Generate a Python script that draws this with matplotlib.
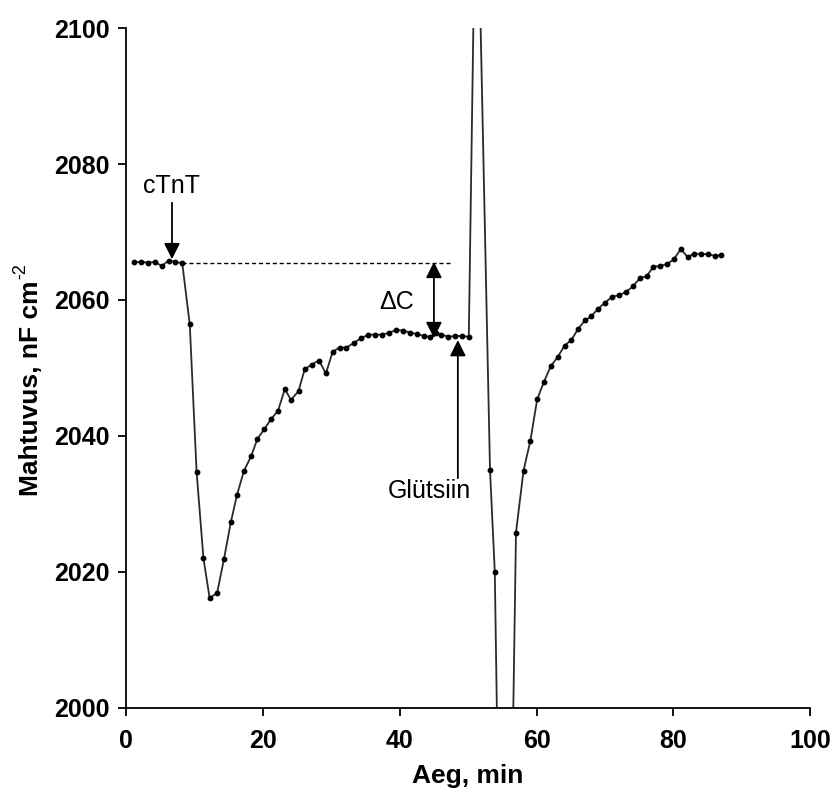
import matplotlib
matplotlib.use("Agg")
import matplotlib.pyplot as plt

# --------------------------------------------------
# data
# --------------------------------------------------
time_min = [
    1.2, 2.2, 3.2, 4.2, 5.2, 6.2, 7.2, 8.2, 9.3, 10.3,
    11.3, 12.2, 13.3, 14.3, 15.3, 16.2, 17.2, 18.3, 19.2, 20.2,
    21.2, 22.2, 23.2, 24.1, 25.2, 26.1, 27.1, 28.2, 29.2, 30.2,
    31.2, 32.2, 33.3, 34.4, 35.4, 36.4, 37.4, 38.5, 39.5, 40.5,
    41.5, 42.5, 43.5, 44.4, 45.3, 46.1, 47.1, 48.1, 49.1, 50.1,
    51.2, 53.2, 53.9, 55.4,
    57.0, 58.1, 59.1, 60.1, 61.1, 62.1, 63.1, 64.1, 65.1, 66.1,
    67.1, 68.0, 69.0, 70.0, 71.1, 72.1, 73.1, 74.1, 75.1, 76.1,
    77.1, 78.1, 79.1, 80.1, 81.1, 82.1, 83.0, 84.1, 85.1, 86.1,
    87.0,
]
capacitance = [
    2065.6, 2065.6, 2065.5, 2065.6, 2065.0, 2065.8, 2065.6, 2065.4, 2056.4, 2034.7,
    2022.0, 2016.2, 2016.9, 2021.9, 2027.3, 2031.3, 2034.8, 2037.1, 2039.6, 2041.0,
    2042.5, 2043.7, 2046.9, 2045.3, 2046.6, 2049.8, 2050.5, 2051.1, 2049.2, 2052.4,
    2053.0, 2053.0, 2053.7, 2054.4, 2054.9, 2054.9, 2054.9, 2055.2, 2055.6, 2055.5,
    2055.2, 2055.0, 2054.7, 2054.6, 2055.1, 2054.9, 2054.6, 2054.7, 2054.7, 2054.6,
    2130.0, 2035.0, 2020.0, 1920.0,
    2025.8, 2034.9, 2039.3, 2045.4, 2048.0, 2050.3, 2051.6, 2053.3, 2054.1, 2055.8,
    2057.0, 2057.6, 2058.7, 2059.6, 2060.5, 2060.7, 2061.2, 2062.0, 2063.2, 2063.5,
    2064.9, 2065.0, 2065.3, 2066.0, 2067.5, 2066.3, 2066.8, 2066.8, 2066.7, 2066.5,
    2066.6,
]

x_ticks = [0, 20, 40, 60, 80, 100]
y_ticks = [2000, 2020, 2040, 2060, 2080, 2100]

# baseline before cTnT and the annotation anchors
baseline = 2065.5
baseline_x = (8.2, 47.4)
ctnt_x, ctnt_top, ctnt_tip = 6.7, 2074.3, 2066.0
dc_x, dc_top, dc_bottom = 45.0, 2065.6, 2054.4
glu_x, glu_bottom, glu_tip = 48.5, 2033.8, 2054.1

plt.rcParams["font.family"] = ["Liberation Sans", "DejaVu Sans"]

fig = plt.figure(figsize=(8.3, 7.89), dpi=100)
ax = fig.add_axes([0.152, 0.1027, 0.824, 0.8618])

ax.plot(time_min, capacitance, color="#2a2a2a", lw=1.3,
        marker="o", ms=3.2, mfc="black", mec="black")

ax.hlines(baseline, *baseline_x, colors="black", linestyles=(0, (3, 2)), lw=1.0)

arrow = dict(arrowstyle="-|>", color="black", lw=1.3, mutation_scale=24,
             shrinkA=0, shrinkB=0)
ax.annotate("", xy=(ctnt_x, ctnt_tip), xytext=(ctnt_x, ctnt_top), arrowprops=arrow)
ax.text(ctnt_x, 2076.8, "cTnT", ha="center", va="center", fontsize=18)

ax.annotate("", xy=(dc_x, dc_bottom), xytext=(dc_x, dc_top),
            arrowprops=dict(arrow, arrowstyle="<|-|>"))
ax.text(39.5, 2059.7, "ΔC", ha="center", va="center", fontsize=18)

ax.annotate("", xy=(glu_x, glu_tip), xytext=(glu_x, glu_bottom), arrowprops=arrow)
ax.text(44.4, 2031.9, "Glütsiin", ha="center", va="center", fontsize=18)

ax.set_xlim(0, 100)
ax.set_ylim(2000, 2100)
ax.set_xticks(x_ticks)
ax.set_yticks(y_ticks)
ax.spines["top"].set_visible(False)
ax.spines["right"].set_visible(False)
ax.spines["left"].set_linewidth(1.3)
ax.spines["bottom"].set_linewidth(1.3)
ax.tick_params(direction="out", length=6, width=1.3, labelsize=18, pad=6)
ax.tick_params(axis="x", pad=9)
for lab in ax.get_xticklabels() + ax.get_yticklabels():
    lab.set_fontweight("bold")

ax.set_xlabel("Aeg, min", fontsize=19, fontweight="bold", labelpad=8)
ax.set_ylabel("Mahtuvus, nF cm", fontsize=19, fontweight="bold", labelpad=8)
# superscript "-2" drawn next to the y label, upright and small as in the source
ax.yaxis.label.set_y(0.47)
fig.canvas.draw()
bb = ax.yaxis.label.get_window_extent().transformed(fig.transFigure.inverted())
fig.text(bb.x0 + 0.45 * bb.width, bb.y1 + 0.002, "-2", fontsize=13, rotation=90,
         ha="right", va="bottom")

fig.savefig("out.png", dpi=100)
